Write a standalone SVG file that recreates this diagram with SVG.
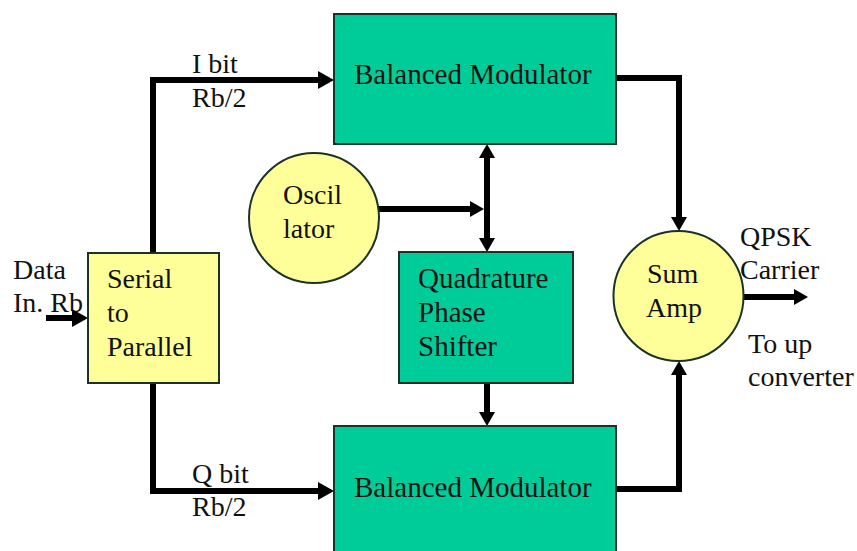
<svg xmlns="http://www.w3.org/2000/svg" width="857" height="551" viewBox="0 0 857 551">
<style>
.box{stroke:#1b3326;stroke-width:2}
.green{fill:#00cc99}
.yellow{fill:#ffff99}
.t{font-family:"Liberation Serif","Times New Roman","DejaVu Serif",serif;font-size:28px;fill:#111}
.l{font-size:29px}
.c{fill:none;stroke:#000;stroke-width:6;stroke-linejoin:miter}
</style>
<defs>
<marker id="big" markerUnits="userSpaceOnUse" markerWidth="16" markerHeight="18" refX="0" refY="9" orient="auto-start-reverse" viewBox="0 0 16 18"><path d="M0,0 L16,9 L0,18 z" fill="#000"/></marker>
<marker id="small" markerUnits="userSpaceOnUse" markerWidth="14" markerHeight="16" refX="0" refY="8" orient="auto-start-reverse" viewBox="0 0 14 16"><path d="M0,0 L14,8 L0,16 z" fill="#000"/></marker>
</defs>
<rect width="857" height="551" fill="#fff"/>
<g id="connectors">
<path class="c" d="M153,253 V80 H318" marker-end="url(#big)"/>
<path class="c" d="M153,383 V491 H318" marker-end="url(#big)"/>
<path class="c" d="M46,318 H72" marker-end="url(#big)"/>
<path class="c" d="M616,78 H679 V217" marker-end="url(#small)"/>
<path class="c" d="M616,489 H679 V375" marker-end="url(#small)"/>
<path class="c" d="M379,209 H470" marker-end="url(#small)"/>
<path class="c" d="M487,158 V238" marker-start="url(#small)" marker-end="url(#small)"/>
<path class="c" d="M487,383 V412" marker-end="url(#small)"/>
<path class="c" d="M743,297 H794" marker-end="url(#small)"/>
</g>
<g id="bm-top">
<rect class="box green" x="334" y="14" width="282" height="130"/>
<text class="t l" x="354" y="84">Balanced Modulator</text>
</g>
<g id="bm-bottom">
<rect class="box green" x="334" y="426" width="282" height="135"/>
<text class="t l" x="354" y="497">Balanced Modulator</text>
</g>
<g id="serial-parallel">
<rect class="box yellow" x="88" y="253" width="131" height="130"/>
<text class="t" x="107" y="288">Serial</text>
<text class="t" x="107" y="322">to</text>
<text class="t" x="107" y="356">Parallel</text>
</g>
<g id="oscillator">
<circle class="box yellow" cx="314" cy="218" r="65" stroke-width="1.5"/>
<text class="t" x="283" y="204">Oscil</text>
<text class="t" x="283" y="238">lator</text>
</g>
<g id="qps">
<rect class="box green" x="399" y="252" width="174" height="131"/>
<text class="t l" x="418" y="288">Quadrature</text>
<text class="t l" x="418" y="322">Phase</text>
<text class="t l" x="418" y="356">Shifter</text>
</g>
<g id="sum-amp">
<circle class="box yellow" cx="678.5" cy="296" r="65" stroke-width="1.5"/>
<text class="t" x="647" y="283">Sum</text>
<text class="t" x="646" y="317">Amp</text>
</g>
<g id="labels">
<text class="t" x="192" y="73">I bit</text>
<text class="t" x="192" y="107">Rb/2</text>
<text class="t" x="192" y="483">Q bit</text>
<text class="t" x="192" y="516">Rb/2</text>
<text class="t" x="13" y="279">Data</text>
<text class="t" x="13" y="312">In. Rb</text>
<text class="t" x="740" y="246">QPSK</text>
<text class="t" x="740" y="279">Carrier</text>
<text class="t" x="748" y="353">To up</text>
<text class="t" x="748" y="386">converter</text>
</g>
</svg>
